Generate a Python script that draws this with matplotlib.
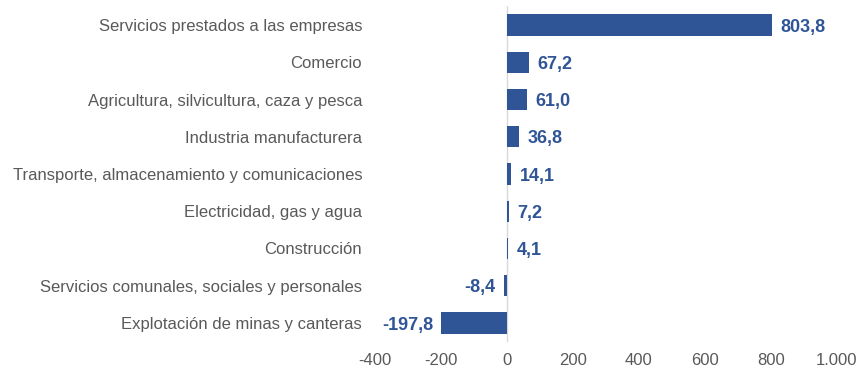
import matplotlib.pyplot as plt
from matplotlib.ticker import FuncFormatter

plt.rcParams['font.family'] = ['Liberation Sans', 'DejaVu Sans']

# Sector names, top to bottom
sectores = [
    "Servicios prestados a las empresas",
    "Comercio",
    "Agricultura, silvicultura, caza y pesca",
    "Industria manufacturera",
    "Transporte, almacenamiento y comunicaciones",
    "Electricidad, gas y agua",
    "Construcción",
    "Servicios comunales, sociales y personales",
    "Explotación de minas y canteras",
]
valores = [803.8, 67.2, 61.0, 36.8, 14.1, 7.2, 4.1, -8.4, -197.8]
x_ticks = [-400, -200, 0, 200, 400, 600, 800, 1000]

azul = "#2F5597"
gris = "#595959"

fig = plt.figure(figsize=(8.61, 3.70), dpi=100)
ax = fig.add_axes([0.4352, 0.0768, 0.5366, 0.9059])

pos = list(range(len(sectores)))
ax.barh(pos, valores, height=0.57, color=azul)
ax.set_ylim(len(sectores) - 0.5, -0.5)
ax.set_xlim(-400, 1000)

# value labels, Spanish decimal comma
for y, v in zip(pos, valores):
    txt = f"{v:.1f}".replace(".", ",")
    if v >= 0:
        ax.annotate(txt, (v, y), xytext=(6, -1.5), textcoords="offset points",
                    ha="left", va="center", fontsize=13, fontweight="bold", color=azul)
    else:
        ax.annotate(txt, (v, y), xytext=(-6, -1.5), textcoords="offset points",
                    ha="right", va="center", fontsize=13, fontweight="bold", color=azul)

ax.set_yticks(pos)
ax.set_yticklabels(sectores, fontsize=12, color=gris)
ax.set_xticks(x_ticks)
ax.xaxis.set_major_formatter(FuncFormatter(lambda x, p: f"{int(x):,}".replace(",", ".")))
ax.tick_params(axis="x", length=0, pad=8, labelsize=12, labelcolor=gris)
ax.tick_params(axis="y", length=0, pad=9)

for s in ["top", "right", "bottom", "left"]:
    ax.spines[s].set_visible(False)
ax.axvline(0, color="#D9D9D9", linewidth=1, zorder=0)

fig.savefig("out.png", dpi=100)
